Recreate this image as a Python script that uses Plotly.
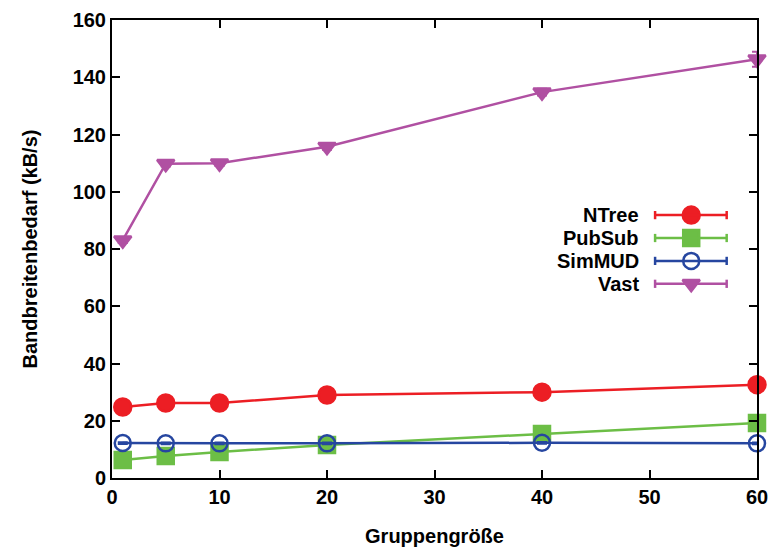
import plotly.graph_objects as go

group_sizes = [1, 5, 10, 20, 40, 60]
ntree = [24.8, 26.2, 26.2, 29.0, 30.0, 32.6]
pubsub = [6.3, 7.7, 9.1, 11.5, 15.4, 19.2]
simmud = [12.2, 12.1, 12.1, 12.1, 12.3, 12.1]
vast = [83.1, 109.8, 110.0, 115.7, 134.8, 146.3]
ntree_err = [0.6, 0.5, 0.5, 0.6, 0.6, 0.7]
pubsub_err = [0.4, 0.4, 0.4, 0.5, 0.5, 0.6]
simmud_err = [0.3, 0.3, 0.3, 0.3, 0.3, 0.3]
vast_err = [1.0, 1.0, 1.0, 1.0, 1.2, 2.6]
series_names = ["NTree", "PubSub", "SimMUD", "Vast"]

colors = ["rgb(236,30,36)", "rgb(108,190,70)", "rgb(38,70,160)", "rgb(176,80,162)"]
symbols = ["circle", "square", "circle-open", "triangle-down"]
sizes = [17, 16, 16, 15]
data = [ntree, pubsub, simmud, vast]
errs = [ntree_err, pubsub_err, simmud_err, vast_err]

FONT = "Liberation Sans, Arial, Helvetica, sans-serif"

fig = go.Figure()
for name, ys, er, c, s, sz in zip(series_names, data, errs, colors, symbols, sizes):
    fig.add_trace(go.Scatter(
        x=group_sizes, y=ys, name=name, mode="lines+markers",
        line=dict(color=c, width=2.5),
        marker=dict(symbol=s, size=sz, color=c, line=dict(color=c, width=2.5)),
        error_y=dict(type="data", array=er, visible=True, color=c, thickness=2, width=5),
        cliponaxis=False, showlegend=False,
    ))

# manual gnuplot-style legend (text left, sample right)
leg_y = [0.574, 0.524, 0.474, 0.424]
x0, x1, xm = 0.842, 0.953, 0.898
for name, c, s, sz, yy in zip(series_names, colors, symbols, sizes, leg_y):
    fig.add_shape(type="line", xref="paper", yref="paper", x0=x0, x1=x1, y0=yy, y1=yy,
                  line=dict(color=c, width=2.5))
    for xc in (x0, x1):
        fig.add_shape(type="line", xref="paper", yref="paper", x0=xc, x1=xc,
                      y0=yy - 0.009, y1=yy + 0.009, line=dict(color=c, width=2.5))
    fig.add_trace(go.Scatter(
        x=[xm], y=[yy], xaxis="x2", yaxis="y2", mode="markers",
        marker=dict(symbol=s, size=sz, color=c, line=dict(color=c, width=2.5)),
        showlegend=False, hoverinfo="skip", cliponaxis=False,
    ))
    fig.add_annotation(x=0.82, y=yy, xref="paper", yref="paper", text="<b>%s</b>" % name,
                       showarrow=False, xanchor="right", yanchor="middle",
                       font=dict(family=FONT, size=20, color="black"))

axis_common = dict(
    showgrid=False, zeroline=False, showline=True, linecolor="black", linewidth=2,
    mirror="ticks", ticks="inside", ticklen=8, tickwidth=1.5, tickcolor="black",
    tickfont=dict(family=FONT, size=20, color="black"), automargin=False,
)

fig.update_layout(
    width=771, height=549,
    margin=dict(l=112, r=14, t=20, b=71),
    paper_bgcolor="white", plot_bgcolor="white",
    xaxis=dict(range=[0, 60], tickvals=[0, 10, 20, 30, 40, 50, 60],
               ticktext=["<b>%d</b>" % v for v in [0, 10, 20, 30, 40, 50, 60]],
               title=dict(text="<b>Gruppengröße</b>", font=dict(family=FONT, size=20, color="black"), standoff=22),
               **axis_common),
    yaxis=dict(range=[0, 160], tickvals=[0, 20, 40, 60, 80, 100, 120, 140, 160],
               ticktext=["<b>%d</b>" % v for v in [0, 20, 40, 60, 80, 100, 120, 140, 160]],
               title=dict(text="<b>Bandbreitenbedarf (kB/s)</b>", font=dict(family=FONT, size=20, color="black"), standoff=30),
               **axis_common),
    xaxis2=dict(range=[0, 1], overlaying="x", visible=False, domain=[0, 1]),
    yaxis2=dict(range=[0, 1], overlaying="y", visible=False, anchor="x2"),
)

fig.write_html("out.html")
